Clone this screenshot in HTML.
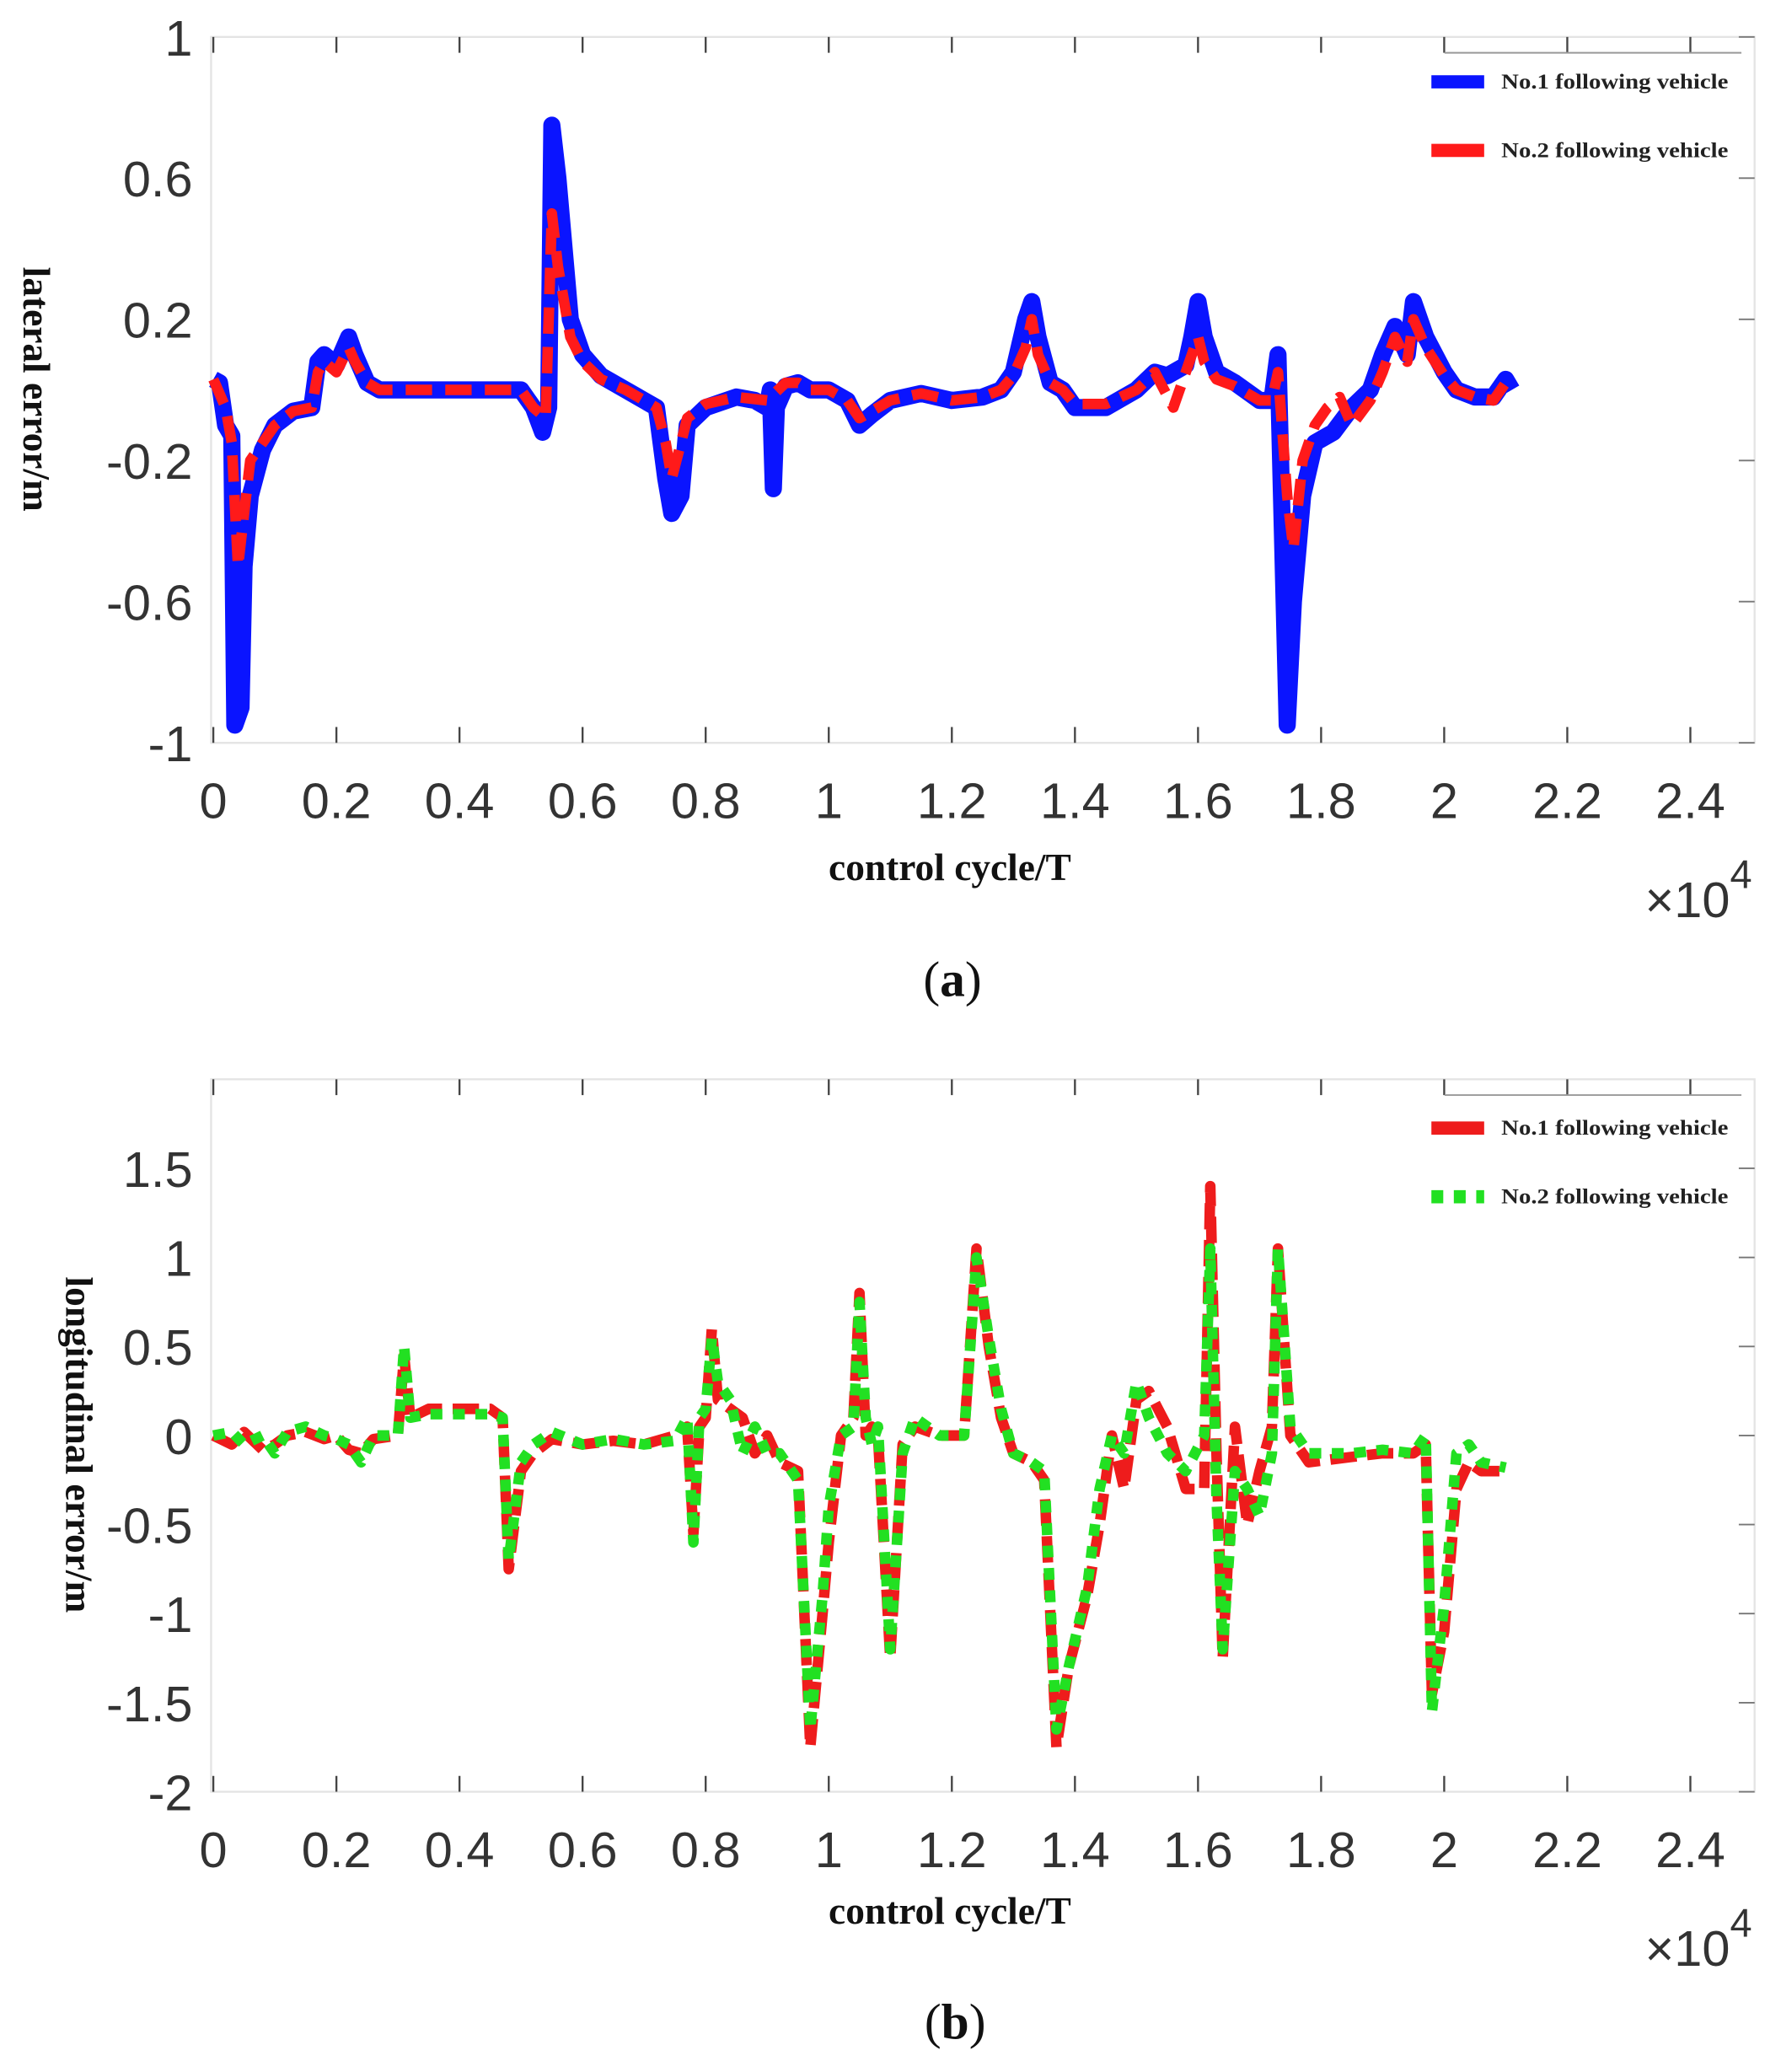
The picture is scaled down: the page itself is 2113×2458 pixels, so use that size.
<!DOCTYPE html>
<html><head><meta charset="utf-8"><style>
html,body{margin:0;padding:0;background:#fff;}
svg{display:block;}
.tk{font-family:"Liberation Sans",sans-serif;font-size:38px;fill:#333;}
.ttl{font-family:"Liberation Serif",serif;font-weight:bold;font-size:29px;fill:#111;}
.lg{font-family:"Liberation Serif",serif;font-weight:bold;font-size:16px;fill:#222;}
.cap{font-family:"Liberation Serif",serif;font-size:38px;fill:#111;}
</style></head><body>
<svg id="svg" width="2113" height="2458" viewBox="0 0 1350 1570.4">
<g id="pa"></g>
<g id="pb"></g>
<text class="cap" x="722" y="755" text-anchor="middle">(<tspan font-weight="bold">a</tspan>)</text>
<text class="cap" x="724" y="1545" text-anchor="middle">(<tspan font-weight="bold">b</tspan>)</text>
</svg>
<script>
const xTicks=[0,0.2,0.4,0.6,0.8,1,1.2,1.4,1.6,1.8,2,2.2,2.4];
const xTickLabels=["0","0.2","0.4","0.6","0.8","1","1.2","1.4","1.6","1.8","2","2.2","2.4"];
const aYTicks=[1,0.6,0.2,-0.2,-0.6,-1];
const aYTickLabels=["1","0.6","0.2","-0.2","-0.6","-1"];
const bYTicks=[1.5,1,0.5,0,-0.5,-1,-1.5,-2];
const bYTickLabels=["1.5","1","0.5","0","-0.5","-1","-1.5","-2"];
const aX1=[0,0.01,0.02,0.03,0.035,0.045,0.05,0.06,0.08,0.1,0.13,0.16,0.17,0.18,0.2,0.22,0.23,0.25,0.27,0.3,0.5,0.52,0.535,0.545,0.55,0.56,0.58,0.6,0.63,0.67,0.7,0.72,0.735,0.745,0.76,0.77,0.8,0.85,0.88,0.9,0.905,0.91,0.915,0.93,0.95,0.97,1.0,1.03,1.05,1.07,1.1,1.15,1.2,1.25,1.28,1.3,1.32,1.33,1.34,1.36,1.38,1.4,1.45,1.5,1.53,1.55,1.58,1.59,1.6,1.61,1.63,1.66,1.7,1.72,1.73,1.745,1.755,1.77,1.79,1.82,1.85,1.88,1.9,1.92,1.94,1.95,1.97,2.0,2.02,2.05,2.08,2.1,2.11];
const aY1=[0.03,0.02,-0.1,-0.13,-0.95,-0.9,-0.5,-0.3,-0.17,-0.1,-0.06,-0.05,0.08,0.1,0.07,0.15,0.1,0.02,0,0,0,-0.05,-0.12,-0.05,0.75,0.6,0.2,0.1,0.04,0,-0.03,-0.05,-0.25,-0.35,-0.3,-0.1,-0.05,-0.02,-0.03,-0.05,0,-0.28,-0.05,0.01,0.02,0,0,-0.03,-0.1,-0.07,-0.03,-0.01,-0.03,-0.02,0,0.05,0.2,0.25,0.15,0.02,0,-0.05,-0.05,0,0.05,0.04,0.07,0.15,0.25,0.15,0.05,0.02,-0.03,-0.03,0.1,-0.95,-0.6,-0.3,-0.15,-0.12,-0.05,0,0.1,0.18,0.1,0.25,0.15,0.05,0,-0.02,-0.02,0.03,0];
const aX2=[0,0.02,0.03,0.04,0.05,0.06,0.08,0.1,0.13,0.16,0.17,0.18,0.2,0.22,0.23,0.25,0.27,0.3,0.5,0.52,0.54,0.55,0.56,0.58,0.6,0.63,0.67,0.7,0.72,0.735,0.745,0.76,0.77,0.8,0.85,0.9,0.93,0.95,0.97,1.0,1.03,1.05,1.07,1.1,1.15,1.2,1.25,1.28,1.3,1.32,1.33,1.34,1.36,1.38,1.4,1.45,1.5,1.53,1.56,1.58,1.59,1.6,1.61,1.63,1.66,1.7,1.72,1.73,1.745,1.755,1.77,1.79,1.81,1.83,1.85,1.88,1.9,1.92,1.94,1.95,1.97,2.0,2.02,2.05,2.08,2.1];
const aY2=[0.03,-0.05,-0.15,-0.5,-0.35,-0.2,-0.15,-0.1,-0.06,-0.05,0.05,0.08,0.05,0.12,0.08,0.02,0,0,0,-0.05,-0.08,0.5,0.35,0.15,0.08,0.03,0,-0.03,-0.05,-0.15,-0.25,-0.15,-0.08,-0.04,-0.02,-0.03,0.02,0.02,0,0,-0.03,-0.08,-0.06,-0.03,-0.01,-0.03,-0.02,0,0.04,0.12,0.2,0.1,0.02,0,-0.04,-0.04,0,0.05,-0.05,0.05,0.1,0.15,0.08,0.03,0.01,-0.03,-0.03,0.05,-0.3,-0.45,-0.2,-0.1,-0.05,-0.02,-0.1,-0.03,0.05,0.15,0.08,0.2,0.12,0.04,0,-0.02,-0.03,0.02];
const bX1=[0,0.03,0.05,0.08,0.1,0.12,0.15,0.18,0.2,0.22,0.24,0.26,0.3,0.31,0.32,0.35,0.45,0.47,0.48,0.5,0.52,0.55,0.6,0.65,0.7,0.75,0.77,0.78,0.79,0.8,0.81,0.82,0.84,0.86,0.88,0.9,0.92,0.95,0.97,0.99,1.0,1.02,1.04,1.05,1.06,1.07,1.08,1.1,1.12,1.14,1.18,1.22,1.24,1.26,1.28,1.3,1.33,1.35,1.37,1.39,1.42,1.44,1.46,1.48,1.5,1.52,1.55,1.58,1.61,1.62,1.63,1.64,1.66,1.68,1.7,1.72,1.73,1.75,1.78,1.85,1.9,1.95,1.97,1.98,2.0,2.02,2.04,2.06,2.1];
const bY1=[0,-0.05,0.02,-0.08,-0.05,0,0.02,-0.02,0,-0.08,-0.1,-0.02,0,0.45,0.1,0.15,0.15,0.1,-0.75,-0.2,-0.1,-0.02,-0.05,-0.03,-0.05,0,0.05,-0.55,0.05,0.1,0.6,0.2,0.15,0.1,-0.1,0,-0.15,-0.2,-1.75,-1.0,-0.6,0,0.1,0.8,0,0.05,0,-1.25,-0.05,0.05,0,0,1.05,0.5,0.1,-0.1,-0.15,-0.25,-1.75,-1.3,-0.9,-0.5,0,-0.3,0.2,0.25,0.05,-0.3,-0.3,1.4,-0.1,-1.25,0.05,-0.5,-0.2,0.05,1.05,0,-0.15,-0.12,-0.1,-0.1,-0.05,-1.45,-1.1,-0.3,-0.15,-0.2,-0.2];
const bX2=[0,0.03,0.05,0.08,0.1,0.12,0.15,0.18,0.2,0.22,0.24,0.26,0.3,0.31,0.32,0.35,0.45,0.47,0.48,0.5,0.52,0.55,0.6,0.65,0.7,0.75,0.77,0.78,0.79,0.8,0.81,0.82,0.84,0.86,0.88,0.9,0.92,0.95,0.97,0.99,1.0,1.02,1.04,1.05,1.06,1.07,1.08,1.1,1.12,1.14,1.18,1.22,1.24,1.26,1.28,1.3,1.33,1.35,1.37,1.39,1.42,1.44,1.46,1.48,1.5,1.52,1.55,1.58,1.61,1.62,1.63,1.64,1.66,1.68,1.7,1.72,1.73,1.75,1.78,1.85,1.9,1.95,1.97,1.98,2.0,2.02,2.04,2.06,2.1];
const bY2=[0,0.02,-0.05,0,-0.1,0.02,0.05,0,-0.02,-0.05,-0.15,0,0,0.5,0.1,0.12,0.12,0.1,-0.7,-0.15,-0.05,0.02,-0.05,-0.02,-0.05,-0.03,0.1,-0.6,0.1,0.15,0.55,0.3,0.2,-0.1,0.05,-0.1,-0.1,-0.25,-1.65,-0.9,-0.4,0,0.05,0.75,0.1,-0.05,0.05,-1.2,-0.1,0.1,0,0,1.0,0.55,0.15,-0.1,-0.15,-0.2,-1.65,-1.3,-0.85,-0.3,0,-0.1,0.3,0.1,-0.1,-0.2,0,1.05,-0.35,-1.2,-0.2,-0.3,-0.45,-0.1,1.05,0.05,-0.1,-0.1,-0.08,-0.1,0,-1.55,-0.95,-0.1,-0.05,-0.15,-0.18];

const NS="http://www.w3.org/2000/svg";
function mk(par,tag,attrs){const e=document.createElementNS(NS,tag);for(const k in attrs)e.setAttribute(k,attrs[k]);par.appendChild(e);return e;}
const X0=161.7,XS=93.3/0.2;
function xs(v){return X0+v*XS;}
function drawPanel(g,top,bot,ymax,ymin,yTicks,yLabs,ttl,ttlX,ttlY,s1,s2,leg,xtY,xtSize){
  const ys=v=>top+(ymax-v)/(ymax-ymin)*(bot-top);
  const L=160,R=1330;
  const box=mk(g,'rect',{x:L,y:top,width:R-L,height:bot-top,fill:'none',stroke:'#e4e4e4','stroke-width':1.5});
  
  xTicks.forEach((t,i)=>{
    const x=xs(t);
    mk(g,'line',{x1:x,y1:top,x2:x,y2:top+12,stroke:'#444','stroke-width':1.5});
    mk(g,'line',{x1:x,y1:bot,x2:x,y2:bot-12,stroke:'#444','stroke-width':1.5});
    const tx=mk(g,'text',{x:x,y:bot+57,class:'tk','text-anchor':'middle'});tx.textContent=xTickLabels[i];
    
  });
  yTicks.forEach((t,i)=>{
    const y=ys(t);
    mk(g,'line',{x1:R,y1:y,x2:R-12,y2:y,stroke:'#777','stroke-width':1.2});
    const tx=mk(g,'text',{x:146,y:y+14,class:'tk','text-anchor':'end'});tx.textContent=yLabs[i];
    
  });
  const yt=mk(g,'text',{x:ttlX,y:ttlY,class:'ttl','text-anchor':'middle',transform:`rotate(90 ${ttlX} ${ttlY})`});yt.textContent=ttl;
  
  const xt=mk(g,'text',{x:720,y:xtY,class:'ttl','text-anchor':'middle','font-size':xtSize});xt.textContent='control cycle/T';
  
  const ex=mk(g,'text',{x:1328,y:bot+132,class:'tk','text-anchor':'end','font-size':42});ex.innerHTML='×10<tspan dy="-22" font-size="30">4</tspan>';
  
  [s1,s2].forEach(s=>{
    const d=s.x.map((v,i)=>(i?'L':'M')+xs(v).toFixed(1)+' '+ys(s.y[i]).toFixed(1)).join(' ');
    const p=mk(g,'path',{d:d,fill:'none',stroke:s.c,'stroke-width':s.w,'stroke-dasharray':s.dash,'stroke-linejoin':'round'});
    
  });
  mk(g,'line',{x1:1095,y1:top+12,x2:1320,y2:top+12,stroke:'#999','stroke-width':1.2});
  [s1,s2].forEach((s,i)=>{
    const yy=leg+i*52;
    const sw=mk(g,'line',{x1:1085,y1:yy,x2:1125,y2:yy,stroke:s.c,'stroke-width':10,'stroke-dasharray':s.legdash});
    
    const t=mk(g,'text',{x:1138,y:yy+5,class:'lg',textLength:172,lengthAdjust:'spacingAndGlyphs'});t.textContent=s.label;
    
  });
}
drawPanel(document.getElementById('pa'),28,563,1,-1,aYTicks,aYTickLabels,'lateral error/m',18,295,
 {x:aX1,y:aY1,c:'#0a14ff',w:13,dash:'none',name:'series-no1-lateral',label:'No.1 following vehicle',legdash:'none'},
 {x:aX2,y:aY2,c:'#ff1a1a',w:8,dash:'20 10',name:'series-no2-lateral',label:'No.2 following vehicle',legdash:'none'},62,667,29);
drawPanel(document.getElementById('pb'),818,1358,2.0,-2.0,bYTicks,bYTickLabels,'longitudinal error/m',50,1095,
 {x:bX1,y:bY1,c:'#ee1c1c',w:8,dash:'20 8',name:'series-no1-longitudinal',label:'No.1 following vehicle',legdash:'none'},
 {x:bX2,y:bY2,c:'#22e022',w:8,dash:'9 8',name:'series-no2-longitudinal',label:'No.2 following vehicle',legdash:'9 8'},855,1458,36);
</script>
</body></html>
